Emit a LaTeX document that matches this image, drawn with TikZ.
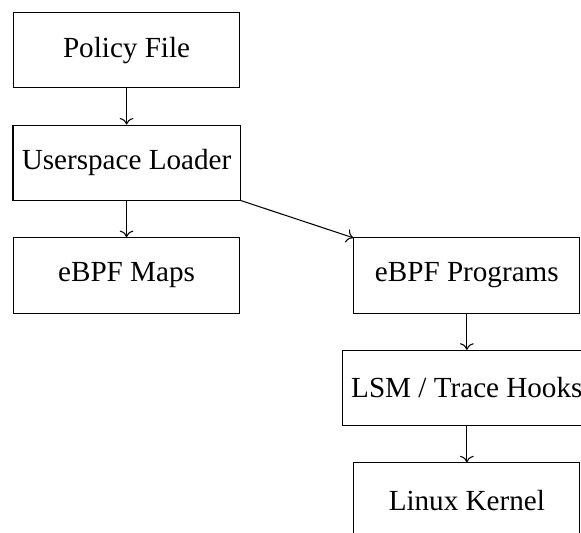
\documentclass[tikz,border=0pt]{standalone}
\usepackage{fontspec}
\setmainfont{Liberation Serif}
\usepackage{tikz}
\usetikzlibrary{arrows.meta,positioning,calc}
\tikzset{
  stagebox/.style={draw, minimum width=3cm, minimum height=1cm, align=center,
    font=\fontsize{11}{13}\selectfont},
  flow/.style={->}
}

\begin{document}
\begin{tikzpicture}[node distance=0.48cm and 1.5cm]
\node[stagebox] (policy) {Policy File};
\node[stagebox, below=of policy] (loader) {Userspace Loader};
\node[stagebox, below=of loader] (maps) {eBPF Maps};
\node[stagebox, right=of maps] (progs) {eBPF Programs};
\node[stagebox, below=of progs] (hooks) {LSM / Trace Hooks};
\node[stagebox, below=of hooks] (kernel) {Linux Kernel};

\draw[flow] (policy) -- (loader);
\draw[flow] (loader) -- (maps);
\draw[flow] (loader) -- (progs);
\draw[flow] (progs) -- (hooks);
\draw[flow] (hooks) -- (kernel);

% crop as in the original
\pgfresetboundingbox
\useasboundingbox ($(policy.north west)+(-4.9pt,4.5pt)$) rectangle ($(kernel.north -| progs.east)+(0.2pt,-26.5pt)$);
\end{tikzpicture}
\end{document}
